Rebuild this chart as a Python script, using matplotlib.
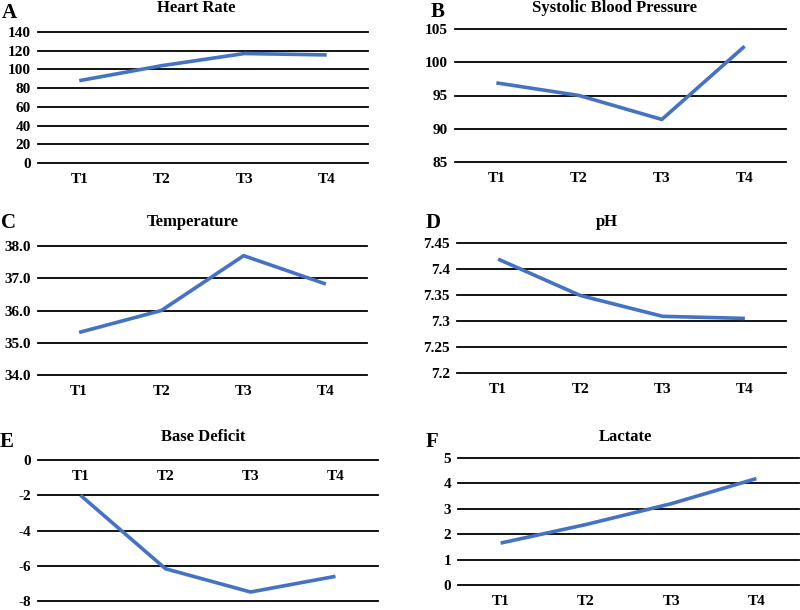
import matplotlib
matplotlib.use("Agg")
import matplotlib.pyplot as plt

plt.rcParams['font.family'] = ['Liberation Serif', 'DejaVu Serif']
plt.rcParams['font.weight'] = 'bold'
plt.rcParams['axes.unicode_minus'] = False

times = ["T1", "T2", "T3", "T4"]

heart_rate = [88, 104, 117, 115.5]
systolic_bp = [96.9, 95.0, 91.4, 102.4]
temperature = [35.32, 36.0, 37.7, 36.82]
ph = [7.419, 7.349, 7.309, 7.305]
base_deficit = [-2.0, -6.17, -7.49, -6.6]
lactate = [1.65, 2.38, 3.2, 4.19]

LINE = "#4472C4"
W, H = 800, 610


def box(x0, y0, x1, y1):
    # pixel box (top-left origin) -> figure fraction rect
    return [x0 / W, 1 - y1 / H, (x1 - x0) / W, (y1 - y0) / H]


def label(fig, x, y, s, size):
    fig.text(x / W, 1 - y / H, s, ha='center', va='center',
             fontsize=size, fontweight='bold')


panels = [
    # values, yticks, ticklabels, axes box, letter pos, title, title pos
    (heart_rate, [0, 20, 40, 60, 80, 100, 120, 140], None,
     (38, 32, 368, 163), (9, 13), "A", "Heart Rate", (196, 8)),
    (systolic_bp, [85, 90, 95, 100, 105], None,
     (455, 29, 786, 162), (438, 12), "B", "Systolic Blood Pressure", (615, 8)),
    (temperature, [34, 35, 36, 37, 38], ["34.0", "35.0", "36.0", "37.0", "38.0"],
     (38, 246, 367, 375), (8, 223), "C", "Temperature", (193, 222)),
    (ph, [7.2, 7.25, 7.3, 7.35, 7.4, 7.45], ["7.2", "7.25", "7.3", "7.35", "7.4", "7.45"],
     (457, 243, 786, 373), (433, 223), "D", "pH", (607, 222)),
    (base_deficit, [-8, -6, -4, -2, 0], None,
     (38, 460, 378, 601), (7, 442), "E", "Base Deficit", (203, 437)),
    (lactate, [0, 1, 2, 3, 4, 5], None,
     (458, 458, 799, 585), (432, 442), "F", "Lactate", (625, 437)),
]

fig = plt.figure(figsize=(W / 100, H / 100), dpi=100)

for vals, yt, ytl, bx, lpos, letter, title, tpos in panels:
    ax = fig.add_axes(box(*bx))
    ax.plot(times, vals, color=LINE, linewidth=2.6, solid_capstyle='butt',
            zorder=3)
    ax.set_xlim(-0.5, 3.5)
    ax.set_ylim(yt[0], yt[-1])
    ax.set_yticks(yt)
    if ytl is not None:
        ax.set_yticklabels(ytl)
    for sp in ax.spines.values():
        sp.set_visible(False)
    if yt[-1] == 0:
        # category axis crosses at zero (top of the range)
        ax.spines['bottom'].set_position(('data', 0))
    ax.tick_params(axis='both', length=0, labelsize=11)
    ax.tick_params(axis='y', pad=5)
    ax.tick_params(axis='x', pad=7)
    ax.yaxis.grid(True, color='black', linewidth=1.3)
    ax.set_axisbelow(True)
    for gl in ax.get_ygridlines():
        gl.set_clip_on(False)
    for t in ax.get_xticklabels() + ax.get_yticklabels():
        t.set_fontweight('bold')
    label(fig, lpos[0], lpos[1], letter, 15)
    label(fig, tpos[0], tpos[1], title, 12)

fig.savefig("out.png", dpi=100)
